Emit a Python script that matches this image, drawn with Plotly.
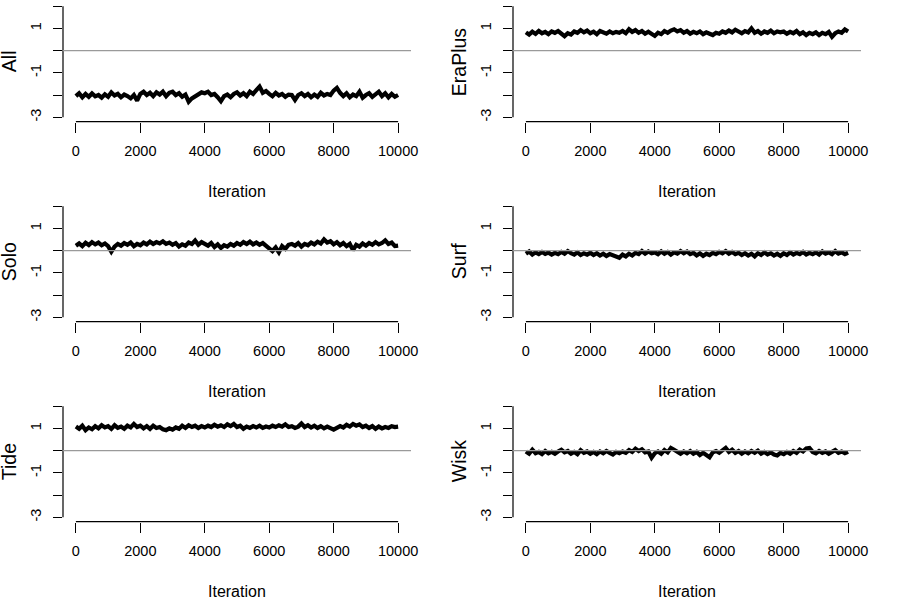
import plotly.graph_objects as go

# iteration index of each sampled value (every 100 iterations)
iterations = list(range(0, 10001, 100))

panel_names = ["All", "EraPlus", "Solo", "Surf", "Tide", "Wisk"]

trace_all = [
    -2.05, -1.92, -2.10, -1.95, -2.08, -1.93, -2.06, -2.00, -2.12, -1.97,
    -2.08, -1.88, -2.02, -1.95, -2.10, -1.98, -2.05, -2.15, -2.00, -2.25,
    -1.95, -1.85, -2.00, -1.90, -2.05, -1.88, -1.98, -1.85, -2.05, -1.90,
    -1.85, -2.00, -1.92, -2.08, -1.98, -2.30, -2.15, -2.05, -1.95, -1.88,
    -1.92, -1.85, -2.00, -1.95, -2.10, -2.28, -2.05, -1.98, -2.10, -1.95,
    -1.88, -2.02, -1.92, -2.05, -1.85, -1.95, -1.78, -1.62, -1.90, -1.82,
    -1.95, -2.05, -1.90, -2.02, -1.95, -2.08, -1.98, -2.00, -2.22, -2.00,
    -1.92, -2.05, -1.95, -2.10, -1.98, -2.08, -1.90, -2.02, -1.95, -2.00,
    -1.80, -1.68, -1.90, -2.05, -1.92, -2.10, -1.98, -2.05, -1.85, -2.12,
    -2.00, -1.92, -2.08, -1.95, -1.85, -2.05, -1.92, -2.10, -1.95, -2.08,
    -2.00,
]

trace_eraplus = [
    0.82, 0.72, 0.85, 0.75, 0.88, 0.78, 0.84, 0.74, 0.86, 0.80,
    0.88, 0.76, 0.65, 0.78, 0.72, 0.86, 0.80, 0.92, 0.82, 0.90,
    0.78, 0.85, 0.74, 0.88, 0.80, 0.76, 0.86, 0.78, 0.84, 0.80,
    0.88, 0.78, 0.96, 0.84, 0.92, 0.80, 0.88, 0.76, 0.85, 0.78,
    0.66, 0.80, 0.74, 0.88, 0.80, 0.90, 0.96, 0.86, 0.92, 0.80,
    0.88, 0.76, 0.84, 0.78, 0.86, 0.74, 0.82, 0.76, 0.70, 0.80,
    0.76, 0.86, 0.80, 0.90, 0.82, 0.94, 0.84, 0.78, 0.88, 0.82,
    1.00, 0.80, 0.88, 0.76, 0.86, 0.80, 0.90, 0.78, 0.86, 0.82,
    0.86, 0.76, 0.84, 0.78, 0.88, 0.74, 0.82, 0.70, 0.80, 0.74,
    0.82, 0.70, 0.80, 0.74, 0.84, 0.62, 0.78, 0.86, 0.80, 0.95,
    0.86,
]

trace_solo = [
    0.22, 0.32, 0.20, 0.35, 0.25, 0.38, 0.28, 0.36, 0.24, 0.32,
    0.20, -0.05, 0.18, 0.30, 0.22, 0.34, 0.26, 0.36, 0.20, 0.30,
    0.24, 0.36, 0.28, 0.40, 0.30, 0.38, 0.32, 0.42, 0.30, 0.36,
    0.26, 0.34, 0.18, 0.28, 0.22, 0.36, 0.30, 0.45, 0.26, 0.38,
    0.30, 0.22, 0.34, 0.16, 0.28, 0.12, 0.24, 0.18, 0.30, 0.22,
    0.34, 0.26, 0.38, 0.30, 0.40, 0.28, 0.36, 0.26, 0.34, 0.22,
    0.10, -0.02, 0.14, -0.08, 0.20, 0.08, 0.26, 0.30, 0.22, 0.34,
    0.18, 0.30, 0.24, 0.36, 0.28, 0.40, 0.32, 0.50, 0.36, 0.42,
    0.28, 0.38, 0.24, 0.34, 0.20, 0.30, 0.02, 0.26, 0.18, 0.32,
    0.22, 0.34, 0.26, 0.38, 0.28, 0.34, 0.46, 0.30, 0.36, 0.20,
    0.22,
]

trace_surf = [
    -0.14, -0.04, -0.18, -0.08, -0.16, -0.06, -0.15, -0.09, -0.18, -0.10,
    -0.16, -0.06, -0.14, -0.02, -0.12, -0.18, -0.08, -0.20, -0.12, -0.18,
    -0.10, -0.20, -0.12, -0.22, -0.14, -0.24, -0.16, -0.20, -0.28, -0.32,
    -0.18, -0.26, -0.14, -0.22, -0.10, -0.16, -0.02, -0.14, -0.04, -0.12,
    -0.08, -0.16, -0.04, -0.14, -0.06, -0.18, -0.08, -0.14, -0.02, -0.12,
    -0.04, -0.16, -0.10, -0.22, -0.12, -0.24, -0.14, -0.20, -0.10, -0.16,
    -0.06, -0.12, -0.02, -0.14, -0.06, -0.16, -0.10, -0.20, -0.12, -0.22,
    -0.14, -0.26, -0.12, -0.20, -0.08, -0.18, -0.12, -0.22, -0.14, -0.24,
    -0.12, -0.20, -0.08, -0.18, -0.10, -0.16, -0.06, -0.18, -0.10, -0.16,
    -0.08, -0.18, -0.04, -0.14, -0.08, -0.16, -0.02, -0.14, -0.08, -0.16,
    -0.10,
]

trace_tide = [
    1.08, 0.98, 1.12, 0.92, 1.04, 0.96, 1.10, 1.00, 1.14, 1.04,
    1.10, 0.98, 1.14, 1.02, 1.08, 0.98, 1.12, 1.04, 1.20, 1.06,
    1.12, 1.00, 1.10, 0.98, 1.12, 1.02, 1.06, 0.96, 0.92, 1.00,
    0.94, 1.04, 0.98, 1.12, 1.02, 1.14, 1.06, 1.12, 1.02, 1.10,
    1.04, 1.12, 1.06, 1.16, 1.08, 1.14, 1.06, 1.18, 1.10, 1.20,
    1.06, 1.12, 0.98, 1.08, 1.02, 1.10, 1.04, 1.12, 1.02, 1.08,
    1.04, 1.12, 1.06, 1.14, 1.08, 1.18, 1.06, 1.10, 1.02, 1.08,
    1.22, 1.06, 1.14, 1.04, 1.12, 1.02, 1.10, 1.00, 1.08, 1.02,
    0.94, 1.02, 1.10, 1.04, 1.16, 1.08, 1.20, 1.12, 1.18, 1.06,
    1.12, 1.02, 1.10, 0.98, 1.08, 1.00, 1.06, 1.02, 1.10, 1.06,
    1.08,
]

trace_wisk = [
    -0.04, -0.14, 0.04, -0.12, -0.06, -0.16, -0.02, -0.12, -0.06, -0.14,
    -0.04, 0.04, -0.08, -0.02, -0.14, -0.06, -0.16, 0.02, -0.10, -0.04,
    -0.14, -0.06, -0.16, -0.04, -0.12, -0.02, -0.10, -0.18, -0.06, -0.12,
    -0.04, -0.10, 0.02, -0.06, 0.08, -0.02, 0.06, -0.08, -0.04, -0.32,
    -0.12, -0.04, -0.14, 0.02, -0.08, 0.12, 0.04, -0.06, -0.14, -0.04,
    -0.12, -0.02, -0.14, -0.06, -0.20, -0.10, -0.18, -0.30, -0.08, -0.02,
    -0.10, 0.02, 0.12, -0.06, 0.04, -0.10, -0.02, -0.14, -0.04, -0.12,
    -0.02, -0.10, 0.00, -0.14, -0.06, -0.16, -0.08, -0.18, -0.22, -0.10,
    -0.16, -0.06, -0.14, -0.02, -0.10, 0.04, -0.04, 0.10, 0.12, -0.06,
    -0.12, -0.02, -0.10, -0.04, -0.14, -0.06, 0.02, -0.10, -0.04, -0.12,
    -0.06,
]

traces = [trace_all, trace_eraplus, trace_solo, trace_surf, trace_tide, trace_wisk]

y_ticks = [-3, -2, -1, 0, 1, 2]
y_ticktext = ["-3", "", "-1", "", "1", ""]
x_ticks = [0, 2000, 4000, 6000, 8000, 10000]
x_ticktext = ["0", "2000", "4000", "6000", "8000", "10000"]

# R-style ranges: data range padded by 4% each side
x_range = [-400, 10400]
y_range = [-3.2, 2.2]

W, H = 900, 600
col_left = [63, 513]      # px, left edge of plot region per column
plot_w = 348
row_top = [1.7, 201.7, 401.7]
plot_h = 120

FONT = "Liberation Sans, Arial, Helvetica, sans-serif"

fig = go.Figure()
shapes = []
annotations = []

for i, (name, vals) in enumerate(zip(panel_names, traces)):
    r, c = divmod(i, 2)
    k = "" if i == 0 else str(i + 1)
    xa, ya = "x" + k, "y" + k
    x0 = col_left[c] / W
    x1 = (col_left[c] + plot_w) / W
    y1 = 1 - row_top[r] / H
    y0 = 1 - (row_top[r] + plot_h) / H

    fig.add_trace(go.Scatter(
        x=iterations, y=vals, mode="lines",
        line=dict(color="black", width=4.2),
        xaxis=xa, yaxis=ya, showlegend=False, hoverinfo="skip"))

    fig.layout["xaxis" + k] = dict(
        domain=[x0, x1], range=x_range, anchor=ya, automargin=False,
        tickvals=x_ticks, ticktext=x_ticktext,
        ticks="outside", ticklen=10, tickwidth=1, tickcolor="black",
        ticklabelstandoff=6,
        showgrid=False, zeroline=False, showline=False,
        tickfont=dict(family=FONT, size=14.5, color="black"))
    fig.layout["yaxis" + k] = dict(
        domain=[y0, y1], range=y_range, anchor=xa, automargin=False,
        tickvals=y_ticks, ticktext=y_ticktext, tickangle=-90,
        ticks="outside", ticklen=9, tickwidth=1, tickcolor="black",
        ticklabelstandoff=6,
        showgrid=False, zeroline=False, showline=False,
        tickfont=dict(family=FONT, size=14.5, color="black"))

    # axis lines spanning only the tick range, as R draws them
    xspan = x_range[1] - x_range[0]
    yspan = y_range[1] - y_range[0]
    shapes.append(dict(
        type="line", xref=xa + " domain", yref=ya + " domain",
        x0=0, x1=0,
        y0=(y_ticks[0] - y_range[0]) / yspan, y1=(y_ticks[-1] - y_range[0]) / yspan,
        line=dict(color="black", width=1.2)))
    shapes.append(dict(
        type="line", xref=xa + " domain", yref=ya + " domain",
        y0=0, y1=0,
        x0=(x_ticks[0] - x_range[0]) / xspan, x1=(x_ticks[-1] - x_range[0]) / xspan,
        line=dict(color="black", width=1.2)))
    # reference line at zero
    shapes.append(dict(
        type="line", xref=xa + " domain", yref=ya,
        x0=0, x1=1, y0=0, y1=0,
        line=dict(color="#9a9a9a", width=1.3)))

    annotations.append(dict(
        text=name, xref="paper", yref="paper",
        x=(col_left[c] - 54.5) / W, y=(y0 + y1) / 2,
        xanchor="center", yanchor="middle", textangle=-90, showarrow=False,
        font=dict(family=FONT, size=19.5, color="black")))
    annotations.append(dict(
        text="Iteration", xref="paper", yref="paper",
        x=(x0 + x1) / 2, y=1 - (row_top[r] + 190) / H,
        xanchor="center", yanchor="middle", showarrow=False,
        font=dict(family=FONT, size=16, color="black")))

fig.update_layout(
    width=W, height=H,
    margin=dict(l=0, r=0, t=0, b=0, autoexpand=False),
    paper_bgcolor="white", plot_bgcolor="white",
    shapes=shapes, annotations=annotations,
)

fix_page = (
    "document.body.style.margin='0';"
    "document.body.style.overflow='hidden';"
    "Plotly.relayout(document.getElementById('{plot_id}'), {width: 900, height: 600});"
)
fig.write_html("out.html", config={"displayModeBar": False}, post_script=fix_page)
